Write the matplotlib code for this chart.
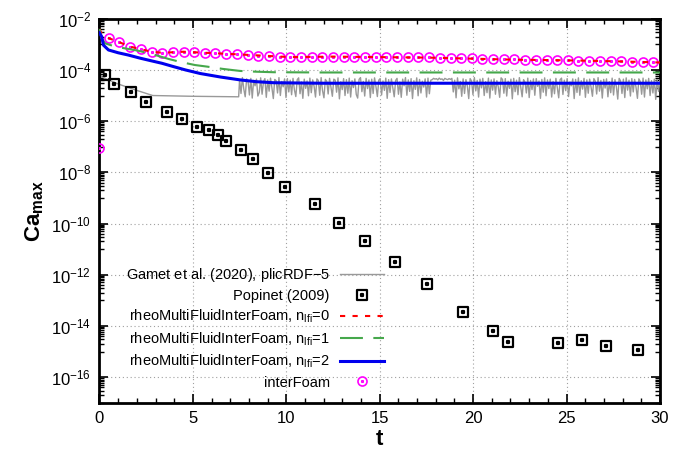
import numpy as np
import matplotlib
matplotlib.use('Agg')
import matplotlib.pyplot as plt
from matplotlib.path import Path
from matplotlib.ticker import FixedLocator, MultipleLocator, LogFormatterSciNotation, NullFormatter

plt.rcParams['font.family'] = ['Liberation Sans', 'DejaVu Sans']
plt.rcParams['mathtext.fontset'] = 'custom'
plt.rcParams['mathtext.rm'] = 'Liberation Sans'
plt.rcParams['mathtext.it'] = 'Liberation Sans:italic'
plt.rcParams['mathtext.bf'] = 'Liberation Sans:bold'

# ---- data (values stored as log10(Ca_max)) ----
# Popinet (2009)
pop_t = [0.27, 0.78, 1.69, 2.50, 3.62, 4.42, 5.22, 5.87, 6.35, 6.78, 7.58, 8.22, 9.02,
         9.94, 11.55, 12.80, 14.23, 15.80, 17.53, 19.46, 21.05, 21.85, 24.55, 25.81,
         27.10, 28.85]
pop_log = [-4.19, -4.55, -4.86, -5.25, -5.64, -5.92, -6.23, -6.34, -6.54, -6.77, -7.12,
           -7.47, -8.02, -8.57, -9.22, -9.98, -10.69, -11.49, -12.36, -13.46, -14.19,
           -14.64, -14.68, -14.55, -14.77, -14.93]

# Gamet et al. (2020), plicRDF-5 : smooth start, then noisy from t=7.5
gam_t_head = [0.0, 0.2, 1.0, 2.0, 2.85, 5.0, 7.45]
gam_log_head = [-4.22, -4.30, -4.55, -4.80, -5.00, -5.03, -5.05]
gam_noise_log = [
    -4.38, -4.92, -4.30, -4.75, -5.05, -4.35, -4.44, -4.98, -4.33, -5.10,
    -4.41, -4.62, -4.36, -5.02, -4.88, -4.31, -4.95, -4.46, -4.34, -5.07,
    -4.39, -4.83, -4.32, -4.70, -5.12, -4.37, -4.42, -4.90, -4.30, -5.00,
    -4.45, -4.66, -4.35, -5.08, -4.34, -4.86, -4.40, -4.97, -4.33, -4.78,
    -5.04, -4.38, -4.31, -4.93, -4.47, -5.11, -4.36, -4.72, -4.43, -5.01,
    -4.32, -4.89, -4.39, -4.64, -5.06, -4.35, -4.41, -4.99, -4.30, -4.81,
    -5.09, -4.37, -4.44, -4.94, -4.33, -4.68, -5.03, -4.36, -4.40, -4.87,
    -4.31, -5.13, -4.46, -4.77, -4.34, -5.00, -4.38, -4.91, -4.32, -5.06,
    -4.42, -4.69, -4.35, -4.96, -5.10, -4.37, -4.30, -4.85, -4.45, -5.02,
    -4.33, -4.73, -4.39, -5.08, -4.36, -4.92, -4.31, -4.65, -5.04, -4.40,
    -4.34, -4.98, -4.43, -4.80, -4.32, -5.11, -4.38, -4.88, -4.35, -4.71,
    -5.05, -4.41, -4.33, -4.95, -4.47, -5.07, -4.36, -4.62, -4.30, -4.99,
    -4.39, -4.84, -4.34, -5.12, -4.42, -4.76, -4.31, -5.01, -4.37, -4.90,
    -4.44, -4.67, -4.35, -5.06, -4.32, -4.93, -4.40, -4.38, -4.33, -4.36,
    -4.34, -4.39, -4.32, -4.37, -4.35, -4.41, -4.33, -4.36, -4.38, -4.34,
    -4.37, -4.33, -4.86, -4.40, -5.09, -4.31, -4.74, -4.45, -5.03, -4.35,
    -4.92, -4.38, -4.63, -5.12, -4.34, -4.43, -4.97, -4.30, -4.82, -4.41,
    -5.06, -4.36, -4.70, -4.33, -5.00, -4.46, -4.89, -4.32, -5.10, -4.39,
    -4.79, -4.35, -4.95, -4.42, -4.66, -5.07, -4.31, -4.37, -4.91, -4.34,
    -5.02, -4.44, -4.72, -4.36, -5.13, -4.33, -4.85, -4.40, -4.97, -4.30,
    -4.68, -5.05, -4.38, -4.47, -4.90, -4.32, -5.08, -4.41, -4.77, -4.35,
    -4.99, -4.34, -4.64, -4.43, -5.11, -4.37, -4.87, -4.31, -5.01, -4.39,
    -4.73, -4.36, -5.06, -4.45, -4.93, -4.33, -4.69, -5.09, -4.38, -4.32,
    -4.96, -4.40, -4.81, -4.34, -5.04, -4.47, -4.62, -4.35, -5.12, -4.37,
    -4.88, -4.31, -4.99, -4.42, -4.75, -4.33, -5.07, -4.39, -4.91, -4.36,
    -4.67, -5.03, -4.34, -4.44, -4.94, -4.30, -4.83, -4.41, -5.10, -4.37,
    -4.71, -4.35, -5.05, -4.46, -4.89, -4.32, -4.98, -4.38, -4.65, -5.14,
    -4.33, -4.43, -4.92, -4.36, -5.08, -4.31, -4.79, -4.40, -5.02, -4.34,
    -4.86, -4.37, -4.68, -5.11, -4.35, -4.45, -4.95, -4.32, -5.06, -4.39,
    -4.74, -4.33, -5.00, -4.42, -4.90, -4.36, -5.15, -4.38, -4.84, -4.40,
]
gam_noise_t0, gam_noise_t1 = 7.5, 30.0

# rheoMultiFluidInterFoam, n_lfi = 0, 1, 2
n0_t = [0, 0.1, 0.5, 1.07, 1.64, 2.21, 2.79, 3.36, 3.93, 4.5, 5.64, 7.36, 10.21, 12.5,
        15.0, 17.64, 19.93, 22.21, 24.5, 26.79, 29.07, 30]
n0_log = [-2.40, -2.55, -2.76, -2.92, -3.09, -3.19, -3.29, -3.33, -3.31, -3.29, -3.33,
          -3.39, -3.50, -3.48, -3.50, -3.52, -3.56, -3.60, -3.62, -3.65, -3.69, -3.71]
n1_t = [0, 0.1, 0.30, 0.84, 2.08, 3.0, 3.69, 4.4, 5.12, 5.75, 6.6, 7.53, 8.4, 9.31, 12, 30]
n1_log = [-2.40, -2.75, -2.96, -3.09, -3.25, -3.42, -3.57, -3.70, -3.81, -3.87, -3.96,
          -4.04, -4.07, -4.09, -4.10, -4.10]
n2_t = [0, 0.12, 0.21, 0.48, 1.0, 1.55, 2.17, 2.75, 3.34, 3.96, 4.6, 5.39, 6.5, 7.53,
        8.4, 9.31, 10.5, 11.98, 30]
n2_log = [-2.55, -2.70, -3.03, -3.22, -3.33, -3.42, -3.54, -3.64, -3.74, -3.87, -4.00,
          -4.14, -4.28, -4.39, -4.46, -4.50, -4.51, -4.52, -4.52]

# interFoam
if_t = [0.0, 0.50, 1.07, 1.64, 2.21, 2.79, 3.36, 3.93, 4.50, 5.07, 5.64, 6.21, 6.79,
        7.36, 7.93, 8.50, 9.07, 9.64, 10.21, 10.79, 11.36, 11.93, 12.50, 13.07, 13.64,
        14.21, 14.79, 15.36, 15.93, 16.50, 17.07, 17.64, 18.21, 18.79, 19.36, 19.93,
        20.50, 21.07, 21.64, 22.21, 22.79, 23.36, 23.93, 24.50, 25.07, 25.64, 26.21,
        26.79, 27.36, 27.93, 28.50, 29.07, 29.64]
if_log = [-7.04, -2.76, -2.92, -3.09, -3.19, -3.29, -3.33, -3.31, -3.29, -3.31, -3.33,
          -3.35, -3.37, -3.39, -3.42, -3.44, -3.47, -3.49, -3.50, -3.50, -3.50, -3.49,
          -3.48, -3.48, -3.49, -3.50, -3.50, -3.50, -3.50, -3.50, -3.50, -3.50, -3.52,
          -3.52, -3.52, -3.54, -3.56, -3.57, -3.57, -3.58, -3.60, -3.60, -3.61, -3.62,
          -3.62, -3.64, -3.65, -3.65, -3.66, -3.66, -3.68, -3.69, -3.70]

labels = ['Gamet et al. (2020), plicRDF$-$5', 'Popinet (2009)',
          r'rheoMultiFluidInterFoam, n$_{\mathrm{lfi}}$=0',
          r'rheoMultiFluidInterFoam, n$_{\mathrm{lfi}}$=1',
          r'rheoMultiFluidInterFoam, n$_{\mathrm{lfi}}$=2',
          'interFoam']

# markers with a centre dot (gnuplot style)
def dotted_marker(outer):
    d = 0.15
    inner = Path([(-d, -d), (d, -d), (d, d), (-d, d), (-d, -d)],
                 [Path.MOVETO, Path.LINETO, Path.LINETO, Path.LINETO, Path.CLOSEPOLY])
    return Path.make_compound_path(outer, inner)

sq = Path([(-1, -1), (1, -1), (1, 1), (-1, 1), (-1, -1)],
          [Path.MOVETO, Path.LINETO, Path.LINETO, Path.LINETO, Path.CLOSEPOLY])
sq_marker = dotted_marker(sq)
circ_marker = dotted_marker(Path.unit_circle())

fig = plt.figure(figsize=(6.86, 4.51), dpi=100)
ax = fig.add_axes([0.145, 0.107, 0.817, 0.8515])

gam_t = np.concatenate([gam_t_head, np.linspace(gam_noise_t0, gam_noise_t1, len(gam_noise_log))])
gam_y = 10.0 ** np.concatenate([gam_log_head, gam_noise_log])

h_gam, = ax.plot(gam_t, gam_y, color='#999999', lw=1.0, zorder=3)
h_pop, = ax.plot(pop_t, 10.0 ** np.array(pop_log), ls='none', marker=sq_marker, ms=6.5,
                 mfc='none', mec='black', mew=1.6, zorder=4)
h_if, = ax.plot(if_t, 10.0 ** np.array(if_log), ls='none', marker=circ_marker, ms=6.5,
                mfc='none', mec='#ff00ff', mew=1.2, zorder=5)
h_n0, = ax.plot(n0_t, 10.0 ** np.array(n0_log), color='#ff0000', lw=1.5, dashes=(2.5, 3.5), zorder=6)
h_n1, = ax.plot(n1_t, 10.0 ** np.array(n1_log), color='#46a84c', lw=1.5, dashes=(11, 5), zorder=6)
h_n2, = ax.plot(n2_t, 10.0 ** np.array(n2_log), color='#0000ee', lw=2.2, zorder=6)

ax.set_yscale('log')
ax.set_xlim(0, 30)
ax.set_ylim(1e-17, 1e-2)

majors = [10.0 ** e for e in range(-16, -1, 2)]
minors = [k * 10.0 ** (e - 1) for e in range(-16, -1, 2) for k in range(1, 10)]
ax.yaxis.set_major_locator(FixedLocator(majors))
ax.yaxis.set_major_formatter(LogFormatterSciNotation())
ax.yaxis.set_minor_locator(FixedLocator(minors))
ax.yaxis.set_minor_formatter(NullFormatter())
ax.xaxis.set_major_locator(MultipleLocator(5))
ax.xaxis.set_minor_locator(MultipleLocator(1))

ax.tick_params(which='both', direction='in', top=True, right=True)
ax.tick_params(which='major', length=6.5, width=1.2, labelsize=12, pad=6)
ax.tick_params(which='minor', length=3.5, width=1.0)
for s in ax.spines.values():
    s.set_linewidth(2.0)

ax.grid(True, which='major', color='#a0a0a0', lw=0.8, ls=(0, (1, 2.5)))
ax.set_axisbelow(True)

ax.set_xlabel('t', fontsize=16, fontweight='bold', labelpad=2)
ax.set_ylabel(r'$\mathbf{Ca_{max}}$', fontsize=16, labelpad=4)

leg = ax.legend([h_gam, h_pop, h_n0, h_n1, h_n2, h_if], labels, loc='lower right',
                bbox_to_anchor=(0.515, 0.023), frameon=False, markerfirst=False,
                fontsize=10.5, handlelength=3.0, handletextpad=0.7, labelspacing=0.35,
                borderaxespad=0.0, borderpad=0.3)

fig.savefig('out.png', dpi=100)
